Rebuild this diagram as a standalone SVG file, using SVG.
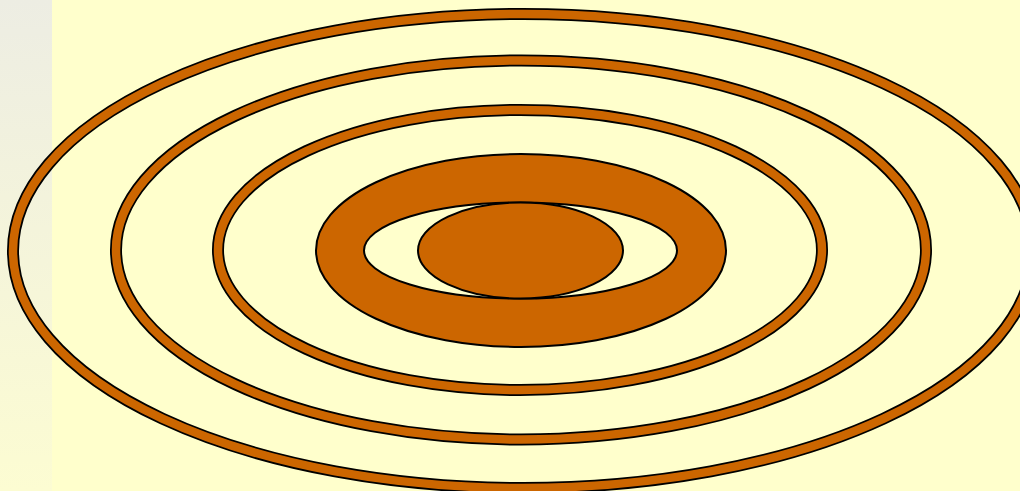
<svg xmlns="http://www.w3.org/2000/svg" width="1020" height="491" viewBox="0 0 1020 491">
<defs>
<linearGradient id="strip" x1="0" y1="0" x2="0" y2="1">
<stop offset="0" stop-color="#EDEDE3"/>
<stop offset="1" stop-color="#FCFCD2"/>
</linearGradient>
</defs>
<style>
.ringB{fill:none;stroke:#000;stroke-width:12}
.ringO{fill:none;stroke:#CC6600;stroke-width:8.5}
.solid{fill:#CC6600;stroke:#000;stroke-width:2}
.hole{fill:#FFFFCC;stroke:#000;stroke-width:2}
</style>
<rect x="0" y="0" width="1020" height="491" fill="#FFFFCC"/>
<rect x="0" y="0" width="52" height="491" fill="url(#strip)"/>
<g id="ring1">
<ellipse class="ringB" cx="523" cy="251" rx="510" ry="237"/>
<ellipse class="ringO" cx="523" cy="251" rx="510" ry="237"/>
</g>
<g id="ring2">
<ellipse class="ringB" cx="521" cy="250" rx="405" ry="189.5"/>
<ellipse class="ringO" cx="521" cy="250" rx="405" ry="189.5"/>
</g>
<g id="ring3">
<ellipse class="ringB" cx="520" cy="250" rx="302" ry="140"/>
<ellipse class="ringO" cx="520" cy="250" rx="302" ry="140"/>
</g>
<g id="core">
<ellipse class="solid" cx="521" cy="250.5" rx="205" ry="96.5"/>
<ellipse class="hole" cx="520.5" cy="250.5" rx="156.5" ry="48"/>
<ellipse class="solid" cx="520.5" cy="250.5" rx="102.5" ry="48"/>
</g>
</svg>
